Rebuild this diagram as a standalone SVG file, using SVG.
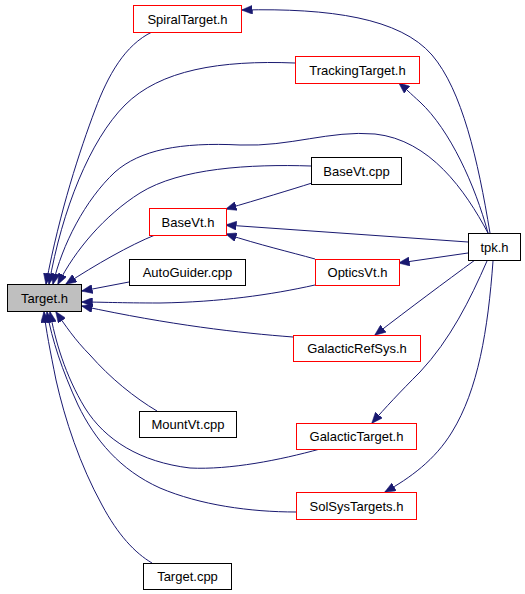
<svg xmlns="http://www.w3.org/2000/svg" width="525" height="594" viewBox="0 0 525 594">
<style>
  .e { fill: none; stroke: #191970; stroke-width: 1; marker-end: url(#ah); }
  .n rect { fill: #ffffff; stroke: #000000; stroke-width: 1; }
  .n.red rect { stroke: #ff0000; }
  .n.cur rect { fill: #bfbfbf; }
  .n text { font-family: "Liberation Sans", Arial, sans-serif; font-size: 13px; fill: #000000; text-anchor: middle; }
</style>
<defs>
  <marker id="ah" markerUnits="userSpaceOnUse" markerWidth="11" markerHeight="9" viewBox="0 0 11 9" refX="10.5" refY="4.5" orient="auto">
    <path d="M0,0 L11,4.5 L0,9 z" fill="#191970" stroke="#191970" stroke-width="0.5"/>
  </marker>
</defs>
<rect width="525" height="594" fill="#ffffff"/>
<g id="edges">
  <path class="e" d="M152,32 C125,45 108,75 95,110 C80,150 60,210 46,284"/>
  <path class="e" d="M295,63 C220,60 160,70 125,105 C90,140 62,210 49,284"/>
  <path class="e" d="M488,233 C465,190 430,140 375,134 C330,130 290,147 240,145 C180,142 140,150 115,172 C85,200 62,245 53,284"/>
  <path class="e" d="M311,166 C250,164 180,168 140,193 C105,215 75,250 58,284"/>
  <path class="e" d="M155,235 C130,245 95,265 66,284"/>
  <path class="e" d="M129,282 L82,291"/>
  <path class="e" d="M315,285 C270,295 220,302 160,303 C120,303 100,302 82,302"/>
  <path class="e" d="M293,337 C240,333 170,325 82,306"/>
  <path class="e" d="M157,411 C135,398 110,378 90,355 C75,340 65,325 56,312"/>
  <path class="e" d="M320,449 C280,460 230,470 190,468 C140,462 105,440 85,408 C65,375 55,340 50,312"/>
  <path class="e" d="M296,512 C250,512 200,505 160,488 C120,470 95,440 78,405 C62,370 52,340 47,312"/>
  <path class="e" d="M152,563 C135,553 118,535 102,505 C80,465 65,420 56,380 C50,350 46,330 44,312"/>
  <path class="e" d="M490,233 C478,160 462,90 432,55 C400,18 330,8 242,10"/>
  <path class="e" d="M488,233 C475,185 450,130 420,102 C410,93 405,88 399,83"/>
  <path class="e" d="M312,183 C290,190 260,199 226,209"/>
  <path class="e" d="M468,242 L226,225"/>
  <path class="e" d="M315,259 C290,252 260,245 226,234"/>
  <path class="e" d="M468,253 L399,263"/>
  <path class="e" d="M475,260 C445,282 410,308 375,335"/>
  <path class="e" d="M487,261 C470,300 450,340 420,372 C400,392 385,408 372,423"/>
  <path class="e" d="M493,261 C488,330 478,390 452,432 C435,460 410,478 385,492"/>
</g>
<g id="n_spiral" class="n red"><rect x="133.5" y="5.5" width="108" height="27"/><text x="187.5" y="23.5">SpiralTarget.h</text></g>
<g id="n_tracking" class="n red"><rect x="295.5" y="56.5" width="124" height="27"/><text x="357.5" y="74.5">TrackingTarget.h</text></g>
<g id="n_basevtcpp" class="n"><rect x="311.5" y="157.5" width="90" height="27"/><text x="356.5" y="175.5">BaseVt.cpp</text></g>
<g id="n_basevth" class="n red"><rect x="149.5" y="208.5" width="77" height="27"/><text x="188" y="226.5">BaseVt.h</text></g>
<g id="n_autoguider" class="n"><rect x="129.5" y="259.5" width="116" height="26"/><text x="187.5" y="277">AutoGuider.cpp</text></g>
<g id="n_target" class="n cur"><rect x="7.5" y="284.5" width="74" height="27"/><text x="44.5" y="302.5">Target.h</text></g>
<g id="n_tpk" class="n"><rect x="468.5" y="233.5" width="52" height="27"/><text x="494.5" y="251.5">tpk.h</text></g>
<g id="n_optics" class="n red"><rect x="315.5" y="259.5" width="84" height="26"/><text x="357.5" y="277">OpticsVt.h</text></g>
<g id="n_galrefsys" class="n red"><rect x="293.5" y="335.5" width="127" height="26"/><text x="357" y="353">GalacticRefSys.h</text></g>
<g id="n_mountvt" class="n"><rect x="139.5" y="411.5" width="97" height="26"/><text x="188" y="429">MountVt.cpp</text></g>
<g id="n_galtarget" class="n red"><rect x="296.5" y="423.5" width="120" height="26"/><text x="356.5" y="441">GalacticTarget.h</text></g>
<g id="n_solsys" class="n red"><rect x="296.5" y="492.5" width="120" height="27"/><text x="356.5" y="510.5">SolSysTargets.h</text></g>
<g id="n_targetcpp" class="n"><rect x="143.5" y="563.5" width="88" height="26"/><text x="187.5" y="581">Target.cpp</text></g>
</svg>
